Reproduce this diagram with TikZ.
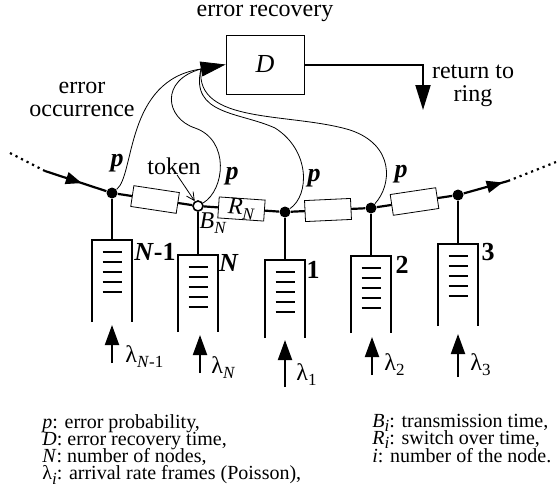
\documentclass[tikz,border=0pt]{standalone}
\usepackage{fontspec}
\setmainfont{Liberation Serif}
\usepackage{tikz}
\usetikzlibrary{arrows.meta,positioning,calc,decorations.markings}

\newcommand{\sub}[1]{\raisebox{-0.45ex}{\fontsize{8.5}{8.5}\selectfont #1}}
\newcommand{\tightskip}{\lineskiplimit=-20pt\relax}

\begin{document}
\begin{tikzpicture}[x=0.5pt, y=-0.5pt,
  ringln/.style={line width=1.1pt},
  ringarr/.style={postaction={decorate}, decoration={markings, mark=at position #1 with {\arrow{Triangle[length=8pt,width=6pt]}}}},
  dot/.style={circle, fill=black, inner sep=0pt, minimum size=5.5pt},
  odot/.style={circle, draw, fill=white, line width=0.8pt, inner sep=0pt, minimum size=5pt},
  dly/.style={draw, fill=white, line width=0.4pt, minimum width=23pt, minimum height=10.5pt, inner sep=0pt, font=\fontsize{12}{12}\selectfont},
  errln/.style={line width=0.4pt},
  bigarr/.style={-{Triangle[length=12.5pt,width=7.5pt]}},
  inarr/.style={line width=1pt, -{Triangle[length=10pt,width=7pt]}},
  lbl/.style={font=\fontsize{12}{11.5}\selectfont, align=center, inner sep=0pt},
  pl/.style={font=\fontsize{13}{13}\selectfont\bfseries\itshape, inner sep=0pt},
  qlbl/.style={font=\fontsize{13}{13}\selectfont\bfseries, inner sep=0pt},
  lam/.style={font=\fontsize{12}{12}\selectfont, anchor=west, inner sep=0pt},
  leg/.style={font=\fontsize{10}{8.6}\selectfont\tightskip, align=left, anchor=north west, inner sep=0pt}
]
\useasboundingbox (0,0) rectangle (560,488);

% recovery box
\node[draw, line width=0.4pt, minimum width=39pt, minimum height=29.5pt, font=\fontsize{13}{13}\selectfont\itshape] (D) at (265,64.5) {D};
\node[lbl] (rec) at (265,13) {error recovery};
\coordinate (ret) at (423,110);
\draw[bigarr, line width=1pt] (D.east) -| (ret);
\node[lbl] (retl) at (473,86) {return to\\ring};
\node[lbl] (occ) at (82,99) {error\\occurrence};
\coordinate (dj) at (201,69);
\draw[bigarr, line width=0.4pt] (dj) -- (D.west);

% ring nodes
\node[dot] (nm1) at (112,193) {};
\node[odot] (nN) at (198,206) {};
\node[dot] (n1) at (285,212) {};
\node[dot] (n2) at (371,208) {};
\node[dot] (n3) at (458,195) {};
\coordinate (rin) at (10,153);
\coordinate (rin2) at (45,171);
\coordinate (rout2) at (508,181);
\coordinate (rout) at (556,162);

\draw[ringln, dotted] (rin) -- (rin2);
\draw[ringln, ringarr=0.6] (rin2) -- (nm1);
\draw[ringln] (nm1) -- node[dly, sloped] (bx1) {} (nN);
\draw[ringln] (nN) -- node[dly, sloped] (rN) {\textit{R}\sub{\textit{N}}} (n1);
\draw[ringln] (n1) -- node[dly, sloped] (bx2) {} (n2);
\draw[ringln] (n2) -- node[dly, sloped] (bx3) {} (n3);
\draw[ringln, ringarr=0.88] (n3) -- (rout2);
\draw[ringln, dotted] (rout2) -- (rout);

% error paths
\draw[errln] (nm1) .. controls (135,175) and (125,80) .. (dj);
\draw[errln] (nN) .. controls (225,190) and (230,140) .. (195,128) .. controls (165,118) and (160,80) .. (dj);
\draw[errln] (n1) .. controls (310,195) and (310,150) .. (275,128) .. controls (240,112) and (190,115) .. (dj);
\draw[errln] (n2) .. controls (392,185) and (395,145) .. (350,130) .. controls (290,112) and (195,125) .. (dj);
\node[pl] (p1) at (117,163) {p};
\node[pl] (p2) at (232,176) {p};
\node[pl] (p3) at (314,178) {p};
\node[pl] (p4) at (401,174) {p};

\node[lbl] (tok) at (174,166) {token};
\draw[line width=0.4pt, -{Straight Barb[length=4pt,width=4pt]}] ([xshift=1.5pt]tok.south) -- (nN);
\node[lbl] (bN) at (213,223) {\textit{B}\sub{\textit{N}}};

% queues
\foreach \nm/\x/\t/\b in {m1/112/240/322, N/198/255/332, 1/285/260/338, 2/371/256/333, 3/458/244/326}{
  \draw[ringln] (\x-20,\b) -- (\x-20,\t) -- (\x+20,\t) -- (\x+20,\b);
  \foreach \k in {0,...,4}
    \draw[line width=1pt] (\x-9.5,\t+12+10*\k) -- (\x+9.5,\t+12+10*\k);
  \coordinate (q\nm) at (\x,\t);
}
\draw[ringln] (nm1) -- (qm1);
\draw[ringln] (nN) -- (qN);
\draw[ringln] (n1) -- (q1);
\draw[ringln] (n2) -- (q2);
\draw[ringln] (n3) -- (q3);

\node[qlbl] (lm1) at (155,252) {\textit{N}-1};
\node[qlbl] (lN) at (229,263) {\textit{N}};
\node[qlbl] (l1) at (313,270) {1};
\node[qlbl] (l2) at (402,265) {2};
\node[qlbl] (l3) at (488,252) {3};

% arrivals
\foreach \nm/\x/\a/\b in {m1/112/363/325, N/200/373/335, 1/285/387/340, 2/372/375/337, 3/458/377/334}{
  \coordinate (s\nm) at (\x,\a);
  \coordinate (e\nm) at (\x,\b);
  \draw[inarr] (s\nm) -- (e\nm);
}
\node[lam] (lamm1) at (125,357) {λ\sub{\textit{N}-1}};
\node[lam] (lamN) at (211,368) {λ\sub{\textit{N}}};
\node[lam] (lam1) at (296,375) {λ\sub{1}};
\node[lam] (lam2) at (384,365) {λ\sub{2}};
\node[lam] (lam3) at (470,365) {λ\sub{3}};

% legend
\node[leg] (legl) at (42,414) {\textit{p}: error probability,\\
  \textit{D}: error recovery time,\\
  \textit{N}: number of nodes,\\
  λ\sub{\textit{i}}: arrival rate frames (Poisson),};
\node[leg] (legr) at (372,414) {\textit{B}\sub{\textit{i}}: transmission time,\\
  \textit{R}\sub{\textit{i}}: switch over time,\\
  \textit{i}: number of the node.};

\end{tikzpicture}
\end{document}
